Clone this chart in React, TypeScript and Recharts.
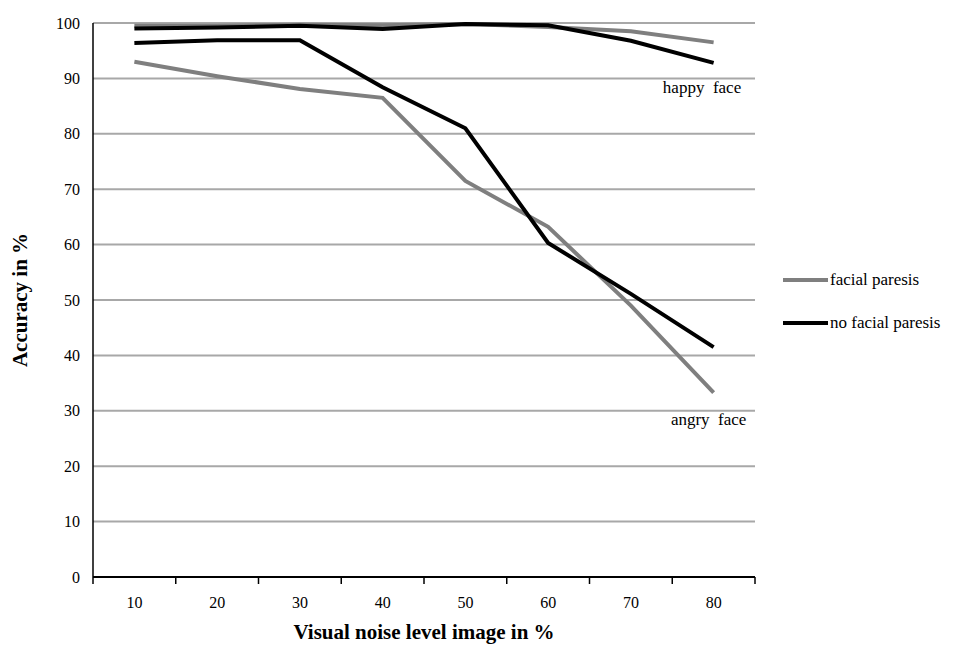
import React from 'react'
import { LineChart, Line, XAxis, YAxis, CartesianGrid, ReferenceDot } from 'recharts'

const noiseLevels = [10, 20, 30, 40, 50, 60, 70, 80]
const happyParesis = [99.5, 99.5, 99.7, 99.6, 99.8, 99.3, 98.5, 96.5]
const happyNoParesis = [99.0, 99.2, 99.5, 98.9, 99.8, 99.6, 96.8, 92.8]
const angryParesis = [93.0, 90.4, 88.1, 86.5, 71.5, 63.2, 49.0, 33.3]
const angryNoParesis = [96.4, 96.9, 96.9, 88.4, 81.0, 60.3, 51.1, 41.5]
const yTicks = [0, 10, 20, 30, 40, 50, 60, 70, 80, 90, 100]
const boundaryTicks = [5, 15, 25, 35, 45, 55, 65, 75, 85]

const data = noiseLevels.map((n, i) => ({
  noise: n,
  happyParesis: happyParesis[i],
  happyNoParesis: happyNoParesis[i],
  angryParesis: angryParesis[i],
  angryNoParesis: angryNoParesis[i],
}))

const FONT = '"Liberation Serif", "Times New Roman", serif'
const GRAY = '#7f7f7f'

function LegendBox() {
  const items = [
    { label: 'facial paresis', color: GRAY },
    { label: 'no facial paresis', color: '#000' },
  ]
  return (
    <div style={{ position: 'absolute', left: 783, top: 258, fontFamily: FONT, fontSize: 17, color: '#000' }}>
      {items.map((it) => (
        <div key={it.label} style={{ display: 'flex', alignItems: 'center', height: 43 }}>
          <span style={{ display: 'inline-block', width: 45, height: 4, background: it.color, marginRight: 2 }} />
          {it.label}
        </div>
      ))}
    </div>
  )
}

const noteStyle = { fill: '#000', fontFamily: FONT, fontSize: 17 }

export default function App() {
  return (
    <div style={{ position: 'absolute', left: 0, top: 0, width: 967, height: 645, background: '#fff' }}>
      <LineChart width={967} height={645} data={data} margin={{ top: 23, right: 212, bottom: 0, left: 0 }}>
        <CartesianGrid vertical={false} stroke="#a8a8a8" strokeWidth={2} />
        {/* inner axis: line + boundary tick marks between the categories */}
        <XAxis
          xAxisId="a"
          dataKey="noise"
          type="number"
          domain={[5, 85]}
          ticks={boundaryTicks}
          interval={0}
          height={1}
          tick={() => <g />}
          tickSize={7}
          axisLine={{ stroke: '#000', strokeWidth: 2 }}
          tickLine={{ stroke: '#000', strokeWidth: 1.5 }}
        />
        <XAxis
          xAxisId="b"
          dataKey="noise"
          type="number"
          domain={[5, 85]}
          ticks={noiseLevels}
          interval={0}
          height={67}
          axisLine={false}
          tickLine={false}
          tickSize={0}
          tickMargin={19}
          tick={{ fill: '#000', fontFamily: FONT, fontSize: 16 }}
          label={{
            value: 'Visual noise level image in %',
            position: 'insideBottom',
            offset: 6,
            style: { fill: '#000', fontFamily: FONT, fontSize: 21, fontWeight: 'bold' },
          }}
        />
        <YAxis
          domain={[0, 100]}
          ticks={yTicks}
          width={93}
          interval={0}
          tickLine={false}
          tickSize={0}
          tickMargin={13}
          axisLine={{ stroke: '#000', strokeWidth: 1.5 }}
          tick={{ fill: '#000', fontFamily: FONT, fontSize: 16 }}
          label={{
            value: 'Accuracy in %',
            angle: -90,
            position: 'insideLeft',
            offset: 20,
            style: { fill: '#000', fontFamily: FONT, fontSize: 21, fontWeight: 'bold', textAnchor: 'middle' },
          }}
        />
        <Line xAxisId="b" dataKey="happyParesis" stroke={GRAY} strokeWidth={4} dot={false} isAnimationActive={false} />
        <Line xAxisId="b" dataKey="angryParesis" stroke={GRAY} strokeWidth={4} dot={false} isAnimationActive={false} />
        <Line xAxisId="b" dataKey="happyNoParesis" stroke="#000" strokeWidth={4} dot={false} isAnimationActive={false} />
        <Line xAxisId="b" dataKey="angryNoParesis" stroke="#000" strokeWidth={4} dot={false} isAnimationActive={false} />
        <ReferenceDot
          xAxisId="b"
          x={78.6}
          y={88.4}
          r={0}
          label={{ value: 'happy\u00a0\u00a0face', position: 'center', style: noteStyle }}
        />
        <ReferenceDot
          xAxisId="b"
          x={79.4}
          y={28.5}
          r={0}
          label={{ value: 'angry\u00a0\u00a0face', position: 'center', style: noteStyle }}
        />
      </LineChart>
      <LegendBox />
    </div>
  )
}
